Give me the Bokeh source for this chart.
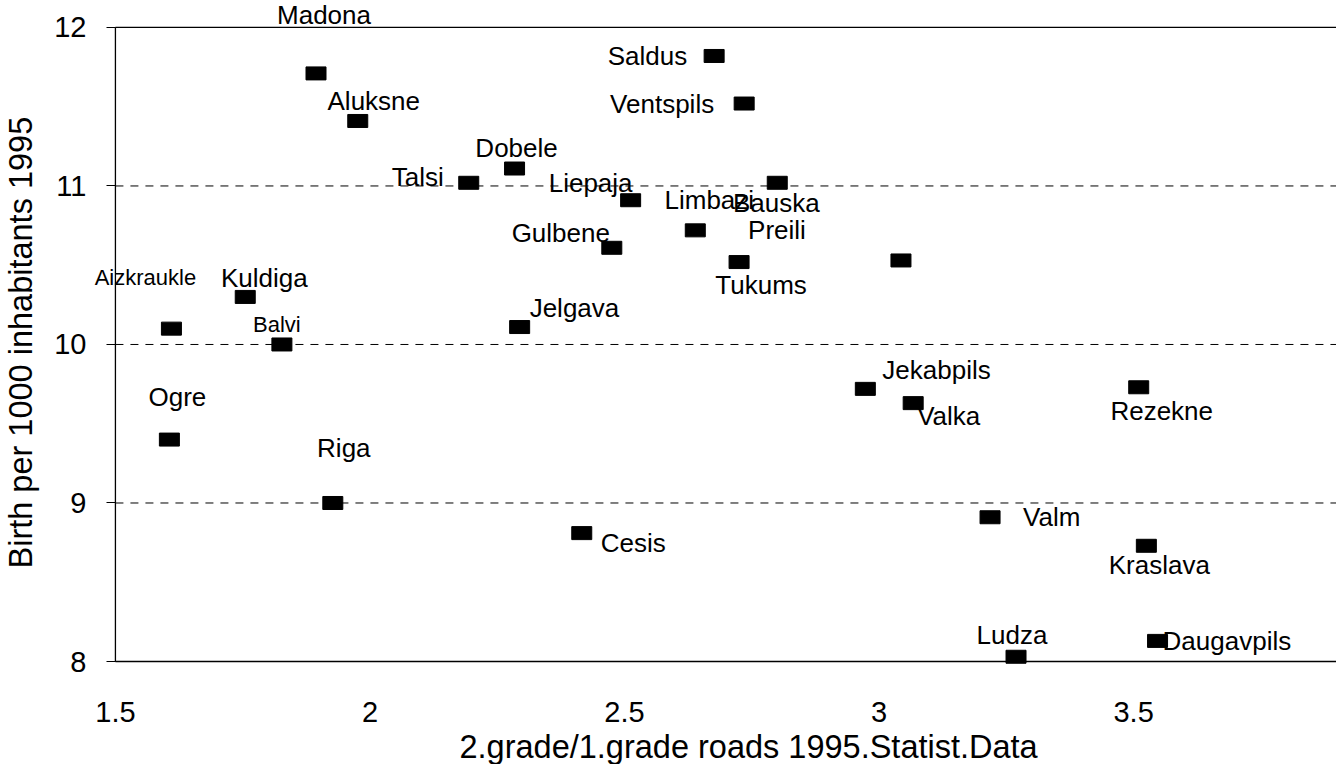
from bokeh.plotting import figure
from bokeh.models import (ColumnDataSource, FixedTicker, CustomJSTickFormatter,
                          Range1d, Label, LinearAxis, Title)
from bokeh.embed import file_html
from bokeh.resources import INLINE

# ---- data ----
districts = ["Madona", "Aluksne", "Talsi", "Dobele", "Liepaja", "Gulbene", "Limbazi",
             "Bauska", "Preili", "Tukums", "Saldus", "Ventspils", "Aizkraukle", "Kuldiga",
             "Balvi", "Jelgava", "Ogre", "Riga", "Cesis", "Jekabpils", "Valka", "Rezekne",
             "Valm", "Kraslava", "Ludza", "Daugavpils"]
roads_ratio = [1.894, 1.976, 2.194, 2.284, 2.512, 2.475, 2.639,
               2.800, 3.043, 2.725, 2.676, 2.735, 1.610, 1.755,
               1.827, 2.294, 1.606, 1.927, 2.416, 2.973, 3.067, 3.510,
               3.218, 3.525, 3.269, 3.547]
births = [11.71, 11.41, 11.02, 11.11, 10.91, 10.61, 10.72,
          11.02, 10.53, 10.52, 11.82, 11.52, 10.10, 10.30,
          10.00, 10.11, 9.40, 9.00, 8.81, 9.72, 9.63, 9.73,
          8.91, 8.73, 8.03, 8.13]
x_ticks = [1.5, 2, 2.5, 3, 3.5, 4]
y_ticks = [8, 9, 10, 11, 12]
x_title = "2.grade/1.grade roads 1995.Statist.Data"
y_title = "Birth per 1000 inhabitants 1995"

# ---- label placement (screen offsets, style) ----
label_align = ["center", "center", "right", "center", "center", "center", "center",
               "center", "center", "center", "right", "right", "center", "center",
               "center", "left", "center", "center", "left", "left", "left", "center",
               "left", "center", "center", "left"]
label_dx = [8, 16, -25, 2, -40, -51, 14,
            -1, -124, 22, -27, -30, -26, 19,
            -5, 10, 8, 11, 19, 17, 4, 23,
            33, 13, -4, 5]
label_dy = [-58, -20, -6, -21, -17, -15, -30,
            20, -30, 23, 0, 0, -51, -19,
            -20, -19, -43, -55, 10, -19, 13, 24,
            0, 19, -22, 0]
label_size = ["26px"] * 26
label_size[12] = "22px"
label_size[14] = "22px"

FONT = "Liberation Sans"
X0, X1 = x_ticks[0], x_ticks[-1]
Y0, Y1 = y_ticks[0], y_ticks[-1]

src = ColumnDataSource(dict(x=roads_ratio, y=births))

# the frame is larger than the axes box so that texts outside the box stay visible
p = figure(width=1336, height=764, output_backend="svg", toolbar_location=None,
           x_range=Range1d(1.3489, 3.8985), y_range=Range1d(7.59, 12.17),
           x_axis_location=None, y_axis_location=None,
           min_border_left=37, min_border_right=0, min_border_top=0, min_border_bottom=38,
           background_fill_color="white", border_fill_color="white")
p.outline_line_color = None
p.xgrid.visible = False
p.ygrid.visible = False

# dashed horizontal grid lines; solid box lines (top, left, bottom)
inner = y_ticks[1:-1]
p.segment(x0=[X0] * len(inner), y0=inner, x1=[X1] * len(inner), y1=inner,
          line_color="black", line_dash="8 7", line_width=1)
p.segment(x0=[X0, X0, X0], y0=[Y1, Y0, Y0], x1=[X1, X0, X1], y1=[Y1, Y1, Y0],
          line_color="black", line_width=1.3)

# x axis at y = 8
xax = LinearAxis(fixed_location=Y0, bounds=(X0, X1), ticker=FixedTicker(ticks=x_ticks),
                 formatter=CustomJSTickFormatter(code="return tick.toString()"),
                 major_tick_out=0, major_tick_in=0, minor_tick_line_color=None,
                 major_label_standoff=40, axis_line_color="black",
                 major_label_text_font=FONT, major_label_text_font_size="29px",
                 major_label_text_color="black")
p.add_layout(xax, "below")

# y axis at x = 1.5
yax = LinearAxis(fixed_location=X0, bounds=(Y0, Y1), ticker=FixedTicker(ticks=y_ticks),
                 major_tick_out=9, major_tick_in=0, minor_tick_line_color=None,
                 major_label_standoff=20, axis_line_color="black",
                 major_tick_line_color="black", major_label_text_font=FONT,
                 major_label_text_font_size="29px", major_label_text_color="black")
p.add_layout(yax, "left")

# axis titles
p.add_layout(Title(text=y_title, align="left", offset=158, text_font=FONT,
                   text_font_size="32.5px", text_font_style="normal",
                   text_color="black", standoff=0), "left")
p.add_layout(Title(text=x_title, align="left", offset=421, text_font=FONT,
                   text_font_size="32.5px", text_font_style="normal",
                   text_color="black", standoff=0), "below")

# markers
p.rect(x="x", y="y", width=20, height=13, width_units="screen", height_units="screen",
       source=src, fill_color="black", line_color="black")

# labels
for name, xv, yv, al, dx, dy, fs in zip(districts, roads_ratio, births, label_align,
                                        label_dx, label_dy, label_size):
    p.add_layout(Label(x=xv, y=yv, text=name, x_offset=dx, y_offset=-dy,
                       text_align=al, text_baseline="middle", text_font=FONT,
                       text_font_size=fs, text_color="black"))

open("out.html", "w").write(file_html(p, INLINE))
